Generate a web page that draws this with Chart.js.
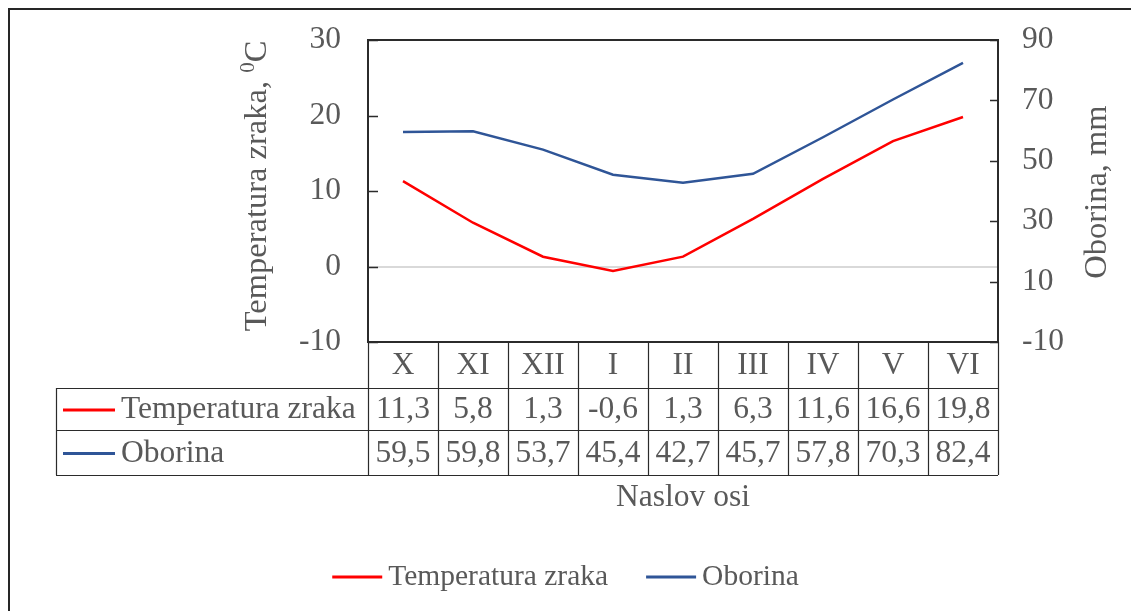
<!DOCTYPE html>
<html>
<head>
<meta charset="utf-8">
<script src="https://cdn.jsdelivr.net/npm/chart.js@4.4.0/dist/chart.umd.min.js"></script>
<style>
  html, body { margin: 0; padding: 0; background: #fff; }
  #wrap { width: 1131px; height: 611px; }
</style>
</head>
<body>
<div id="wrap"><canvas id="grafico" width="1131" height="611"></canvas></div>
<script>
// Podaci
const mjeseci = ['X', 'XI', 'XII', 'I', 'II', 'III', 'IV', 'V', 'VI'];
const temperatura = [11.3, 5.8, 1.3, -0.6, 1.3, 6.3, 11.6, 16.6, 19.8];
const oborina = [59.5, 59.8, 53.7, 45.4, 42.7, 45.7, 57.8, 70.3, 82.4];
const nazivi = ['Temperatura zraka', 'Oborina'];
const boje = ['#FF0000', '#2F5597'];
const lijevaOs = [-10, 30, 10];   // min, max, korak
const desnaOs = [-10, 90, 20];

const FONT = "'Liberation Serif', 'Times New Roman', serif";
const SIVA = '#595959';
const VEL = 31.5;

const fmt = v => v.toFixed(1).replace('.', ',');

// crta okvire, tablicu, naslove osi i legendu
const tablica = {
  id: 'tablica',
  afterDraw(chart) {
    const { ctx, chartArea: a, scales } = chart;
    const x = scales.x, y = scales.y, y1 = scales.y1;
    const korak = x.getPixelForValue(1) - x.getPixelForValue(0);
    const lijevo = 56;
    const redovi = [a.bottom, 388, 430, 475];
    const desno = x.getPixelForValue(mjeseci.length - 1) + korak / 2;
    ctx.save();

    // vanjski okvir
    ctx.strokeStyle = '#262626';
    ctx.lineWidth = 2;
    ctx.beginPath();
    ctx.moveTo(9, chart.height); ctx.lineTo(9, 9); ctx.lineTo(chart.width, 9);
    ctx.stroke();

    // okvir grafa
    ctx.strokeStyle = '#2b2b2b';
    ctx.lineWidth = 2;
    ctx.strokeRect(a.left, a.top, a.right - a.left, a.bottom - a.top);

    // crtice na osima (prema unutra)
    ctx.lineWidth = 1.5;
    ctx.beginPath();
    y.ticks.forEach(t => {
      const py = Math.round(y.getPixelForValue(t.value)) + 0.5;
      ctx.moveTo(a.left, py); ctx.lineTo(a.left + 10, py);
    });
    y1.ticks.forEach(t => {
      const py = Math.round(y1.getPixelForValue(t.value)) + 0.5;
      ctx.moveTo(a.right, py); ctx.lineTo(a.right - 8, py);
    });
    ctx.stroke();

    // linije tablice
    ctx.strokeStyle = '#2b2b2b';
    ctx.lineWidth = 1.2;
    ctx.beginPath();
    for (let i = 0; i <= mjeseci.length; i++) {
      const px = Math.round(a.left + i * korak) + 0.5;
      ctx.moveTo(px, redovi[0]); ctx.lineTo(px, redovi[3]);
    }
    [redovi[1], redovi[2], redovi[3]].forEach(r => {
      ctx.moveTo(lijevo, r + 0.5); ctx.lineTo(desno, r + 0.5);
    });
    ctx.moveTo(lijevo + 0.5, redovi[1]); ctx.lineTo(lijevo + 0.5, redovi[3]);
    ctx.stroke();

    // tekst tablice
    ctx.fillStyle = SIVA;
    ctx.font = `${VEL}px ${FONT}`;
    ctx.textBaseline = 'middle';
    ctx.textAlign = 'center';
    const sredina = i => (redovi[i] + redovi[i + 1]) / 2 + 1;
    mjeseci.forEach((m, i) => {
      const px = x.getPixelForValue(i);
      ctx.fillText(m, px, sredina(0));
      ctx.fillText(fmt(temperatura[i]), px, sredina(1));
      ctx.fillText(fmt(oborina[i]), px, sredina(2));
    });
    ctx.textAlign = 'left';
    chart.data.datasets.forEach((ds, k) => {
      const cy = sredina(k + 1);
      ctx.strokeStyle = ds.borderColor;
      ctx.lineWidth = 3;
      ctx.beginPath(); ctx.moveTo(63, cy); ctx.lineTo(115, cy); ctx.stroke();
      ctx.fillText(ds.label, 121, cy);
    });

    // naslov x osi
    ctx.textAlign = 'center';
    ctx.fillText('Naslov osi', (a.left + a.right) / 2, 498);

    // naslovi y osi
    const naslov = (cx, cy, dijelovi) => {
      ctx.save();
      ctx.translate(cx, cy);
      ctx.rotate(-Math.PI / 2);
      ctx.textAlign = 'left';
      let w = 0;
      dijelovi.forEach(d => { ctx.font = `${d.vel}px ${FONT}`; w += ctx.measureText(d.t).width; });
      let px = -w / 2;
      dijelovi.forEach(d => {
        ctx.font = `${d.vel}px ${FONT}`;
        ctx.fillText(d.t, px, d.pom || 0);
        px += ctx.measureText(d.t).width;
      });
      ctx.restore();
    };
    naslov(257, 186, [
      { t: 'Temperatura zraka, ', vel: 32.5 },
      { t: '0', vel: 21, pom: -9 },
      { t: 'C', vel: 32.5 }
    ]);
    naslov(1097, 192, [{ t: 'Oborina, mm', vel: 32.5 }]);

    // legenda
    ctx.font = `29.5px ${FONT}`;
    const sir = chart.data.datasets.map(ds => 50 + 6 + ctx.measureText(ds.label).width);
    const ukupno = sir.reduce((s, v) => s + v, 0) + 38;
    let lx = (chart.width - ukupno) / 2;
    const ly = 577;
    chart.data.datasets.forEach((ds, k) => {
      ctx.strokeStyle = ds.borderColor;
      ctx.lineWidth = 3;
      ctx.beginPath(); ctx.moveTo(lx, ly); ctx.lineTo(lx + 50, ly); ctx.stroke();
      ctx.textAlign = 'left';
      ctx.fillText(ds.label, lx + 56, ly);
      lx += sir[k] + 38;
    });
    ctx.restore();
  }
};

const ctx = document.getElementById('grafico').getContext('2d');
const chart = new Chart(ctx, {
  type: 'line',
  data: {
    labels: mjeseci,
    datasets: [
      { label: nazivi[0], data: temperatura, borderColor: boje[0], backgroundColor: boje[0], yAxisID: 'y' },
      { label: nazivi[1], data: oborina, borderColor: boje[1], backgroundColor: boje[1], yAxisID: 'y1' }
    ]
  },
  options: {
    responsive: false,
    animation: false,
    layout: { padding: { top: 40, bottom: 611 - 342, left: 0, right: 0 } },
    elements: {
      line: { borderWidth: 2.5, tension: 0 },
      point: { radius: 0, hoverRadius: 0 }
    },
    plugins: { legend: { display: false }, title: { display: false }, tooltip: { enabled: false } },
    scales: {
      x: { type: 'category', offset: true, display: false },
      y: {
        position: 'left',
        min: lijevaOs[0], max: lijevaOs[1],
        afterFit: s => { s.width = 368; },
        ticks: { stepSize: lijevaOs[2], padding: 27, color: SIVA, font: { family: FONT, size: VEL, lineHeight: 0.3 } },
        grid: {
          drawTicks: false,
          lineWidth: 2,
          color: c => c.tick && c.tick.value === 0 ? '#D9D9D9' : 'transparent'
        },
        border: { display: false }
      },
      y1: {
        position: 'right',
        min: desnaOs[0], max: desnaOs[1],
        afterFit: s => { s.width = 1131 - 998; },
        ticks: { stepSize: desnaOs[2], padding: 24, color: SIVA, font: { family: FONT, size: VEL, lineHeight: 0.3 } },
        grid: { display: false, drawTicks: false },
        border: { display: false }
      }
    }
  },
  plugins: [tablica]
});
</script>
</body>
</html>
